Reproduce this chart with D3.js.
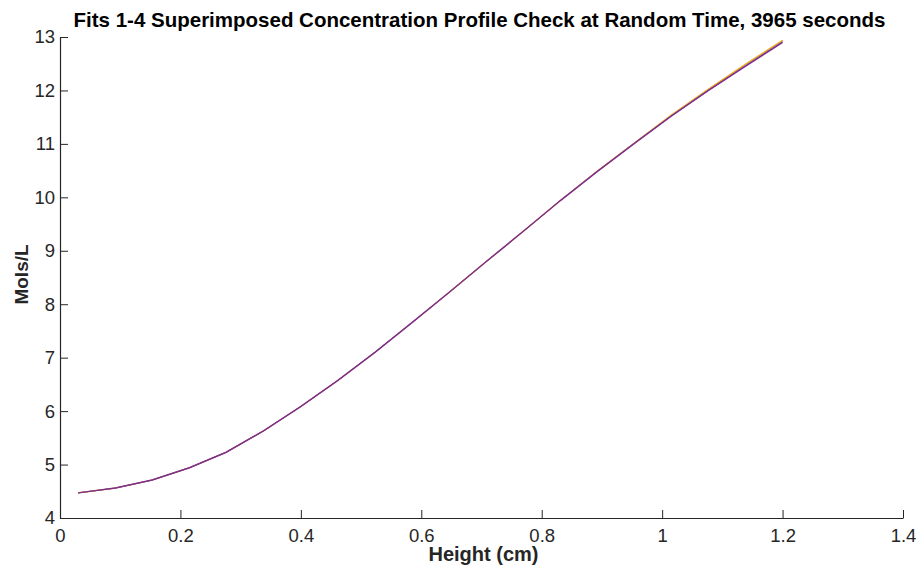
<!DOCTYPE html>
<html>
<head>
<meta charset="utf-8">
<script src="https://cdn.jsdelivr.net/npm/d3@7"></script>
<style>
  body { margin: 0; background: #fff; }
  text { font-family: "Liberation Sans", Arial, sans-serif; }
</style>
</head>
<body>
<div id="chart"></div>
<script>
// heights (cm) where the profile was sampled
var heights = [0.030, 0.092, 0.153, 0.215, 0.276, 0.338, 0.399, 0.461, 0.523, 0.584,
               0.646, 0.707, 0.769, 0.831, 0.892, 0.954, 1.015, 1.077, 1.138, 1.200];

// concentration (mol/L) for each fit
var fit1 = [4.47, 4.56, 4.71, 4.94, 5.23, 5.63, 6.08, 6.57, 7.10, 7.65,
            8.22, 8.79, 9.36, 9.94, 10.48, 11.01, 11.52, 12.00, 12.46, 12.91];
var fit2 = [4.47, 4.56, 4.71, 4.94, 5.23, 5.63, 6.08, 6.57, 7.10, 7.65,
            8.22, 8.79, 9.36, 9.94, 10.49, 11.02, 11.53, 12.02, 12.48, 12.93];
var fit3 = [4.47, 4.56, 4.71, 4.94, 5.23, 5.63, 6.08, 6.57, 7.10, 7.65,
            8.22, 8.79, 9.36, 9.94, 10.49, 11.02, 11.54, 12.03, 12.49, 12.94];
var fit4 = [4.47, 4.56, 4.71, 4.94, 5.23, 5.63, 6.08, 6.57, 7.10, 7.65,
            8.22, 8.79, 9.36, 9.94, 10.48, 11.01, 11.52, 12.00, 12.45, 12.90];

var xTicks = [0, 0.2, 0.4, 0.6, 0.8, 1, 1.2, 1.4];
var yTicks = [4, 5, 6, 7, 8, 9, 10, 11, 12, 13];

var series = [
    {name: "Fit 1", values: fit1, color: "#0072BD", w: 1},
    {name: "Fit 2", values: fit2, color: "#D95319", w: 1},
    {name: "Fit 3", values: fit3, color: "#EDB120", w: 1.1},
    {name: "Fit 4", values: fit4, color: "#7E2F8E", w: 1.5}
];

var W = 919, H = 573;
var margin = {top: 37, right: 16, bottom: 55, left: 60},
    width = W - margin.left - margin.right,
    height = H - margin.top - margin.bottom;

var svg = d3.select("#chart")
  .append("svg")
    .attr("width", W)
    .attr("height", H)
  .append("g")
    .attr("transform", "translate(" + margin.left + "," + margin.top + ")");

var x = d3.scaleLinear().domain([0, 1.4]).range([0, width]);
var y = d3.scaleLinear().domain([4, 13]).range([height, 0]);

var axisColor = "#262626";

// X axis (ticks pointing inward)
var xAxis = svg.append("g")
    .attr("transform", "translate(0," + height + ")")
    .call(d3.axisBottom(x).tickValues(xTicks).tickSizeInner(-8).tickSizeOuter(0)
          .tickPadding(11).tickFormat(d3.format("~g")));

// Y axis
var yAxis = svg.append("g")
    .call(d3.axisLeft(y).tickValues(yTicks).tickSizeInner(-8).tickSizeOuter(0)
          .tickPadding(5).tickFormat(d3.format("d")));

[xAxis, yAxis].forEach(function(a) {
    a.attr("font-size", null).attr("font-family", null);
    a.select(".domain").attr("stroke", axisColor).attr("stroke-width", 1.2);
    a.selectAll(".tick line").attr("stroke", axisColor);
    a.selectAll(".tick text")
        .attr("fill", axisColor)
        .style("font-size", "18.5px");
});

// lines
var line = d3.line()
    .x(function(d, i) { return x(heights[i]); })
    .y(function(d) { return y(d); });

svg.selectAll(".fit")
    .data(series)
    .enter()
    .append("path")
    .attr("class", "fit")
    .attr("fill", "none")
    .attr("stroke", function(d) { return d.color; })
    .attr("stroke-width", function(d) { return d.w; })
    .attr("d", function(d) { return line(d.values); });

// title
svg.append("text")
    .attr("x", width / 2 - 2)
    .attr("y", -10)
    .attr("font-weight", "bold")
    .attr("font-size", "20.5px")
    .attr("fill", "#000")
    .style("text-anchor", "middle")
    .text("Fits 1-4 Superimposed Concentration Profile Check at Random Time, 3965 seconds");

// x label
svg.append("text")
    .attr("x", width / 2 + 2)
    .attr("y", height + 43)
    .attr("font-weight", "bold")
    .attr("font-size", "20px")
    .attr("fill", axisColor)
    .style("text-anchor", "middle")
    .text("Height (cm)");

// y label
svg.append("text")
    .attr("transform", "rotate(-90)")
    .attr("x", -height / 2 + 3)
    .attr("y", -32)
    .attr("font-weight", "bold")
    .attr("font-size", "19px")
    .attr("fill", axisColor)
    .style("text-anchor", "middle")
    .text("Mols/L");
</script>
</body>
</html>
